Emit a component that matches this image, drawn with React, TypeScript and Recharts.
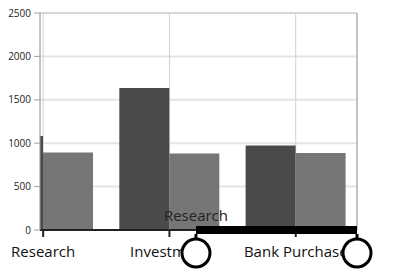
import { BarChart, Bar, XAxis, YAxis, CartesianGrid, ReferenceLine, ReferenceDot } from 'recharts';

const categories = ['Research', 'Investment', 'Bank Purchase'];
const seriesA = [1083, 1636, 973];
const seriesB = [893, 881, 887];
const yTicks = [0, 500, 1000, 1500, 2000, 2500];

// visible window of the category axis (zoomed range) and the selected range
const xMin = -0.025;
const xMax = 2.485;
const selStart = 1.21;
const selEnd = 2.485;
const selLabel = 'Research';

const data = categories.map((name, i) => ({ x: i, name, a: seriesA[i], b: seriesB[i] }));

const font = '"Open Sans", sans-serif';
const W = 393;
const H = 279;

function Thumb(props: any) {
  const { cx, cy, label } = props;
  return (
    <g>
      {label && (
        <text x={cx} y={cy - 9} textAnchor="middle" fontFamily={font} fontSize={15} fill="#222">
          {label}
        </text>
      )}
      <line x1={cx} y1={cy + 4} x2={cx} y2={cy + 10} stroke="#000" strokeWidth={3} />
      <circle cx={cx} cy={cy + 23} r={14} fill="#fff" stroke="#000" strokeWidth={3} />
    </g>
  );
}

export default function App() {
  return (
    <div style={{ position: 'absolute', left: 0, top: 0, width: W, height: H, background: '#fff' }}>
      <BarChart
        width={W}
        height={H}
        data={data}
        barGap={0}
        margin={{ top: 13, right: 36, left: 0, bottom: 19 }}
      >
        <CartesianGrid horizontal vertical={false} stroke="#e4e4e4" strokeWidth={2} />
        <CartesianGrid horizontal={false} vertical stroke="#d0d0d0" />
        <XAxis
          type="number"
          dataKey="x"
          domain={[xMin, xMax]}
          allowDataOverflow
          ticks={[0, 1, 2]}
          interval={0}
          tickFormatter={(v: number) => categories[v]}
          height={30}
          tickSize={7}
          tickMargin={9}
          stroke="#222"
          strokeWidth={2}
          tick={{ fontFamily: font, fontSize: 15, fill: '#111' }}
        />
        <YAxis
          domain={[0, 2500]}
          ticks={yTicks}
          width={40}
          tickSize={6}
          tickMargin={3}
          stroke="#a0a0a0"
          tick={{ fontFamily: font, fontSize: 10, fill: '#222' }}
        />
        <ReferenceLine x={xMax} stroke="#a0a0a0" ifOverflow="visible" />
        <ReferenceLine y={2500} stroke="#c8c8c8" ifOverflow="visible" />
        <Bar dataKey="a" fill="#4a4a4a" barSize={50} isAnimationActive={false} />
        <Bar dataKey="b" fill="#767676" barSize={50} isAnimationActive={false} />
      </BarChart>

      {/* range selector drawn in a second chart on top, same plot area, axes hidden */}
      <div style={{ position: 'absolute', left: 0, top: 0, width: W, height: H, pointerEvents: 'none' }}>
        <BarChart width={W} height={H} data={data} margin={{ top: 13, right: 36, left: 40, bottom: 49 }}>
          <XAxis type="number" dataKey="x" domain={[xMin, xMax]} allowDataOverflow hide />
          <YAxis domain={[0, 2500]} ticks={yTicks} hide />
          <Bar dataKey="a" fill="none" barSize={50} isAnimationActive={false} />
          <ReferenceLine
            segment={[{ x: selStart, y: 0 }, { x: selEnd, y: 0 }]}
            stroke="#000"
            strokeWidth={8}
            ifOverflow="visible"
          />
          <ReferenceDot
            x={selStart}
            y={0}
            r={14}
            ifOverflow="visible"
            shape={(p: any) => <Thumb cx={p.cx} cy={p.cy} label={selLabel} />}
          />
          <ReferenceDot
            x={selEnd}
            y={0}
            r={14}
            ifOverflow="visible"
            shape={(p: any) => <Thumb cx={p.cx} cy={p.cy} />}
          />
        </BarChart>
      </div>
    </div>
  );
}
